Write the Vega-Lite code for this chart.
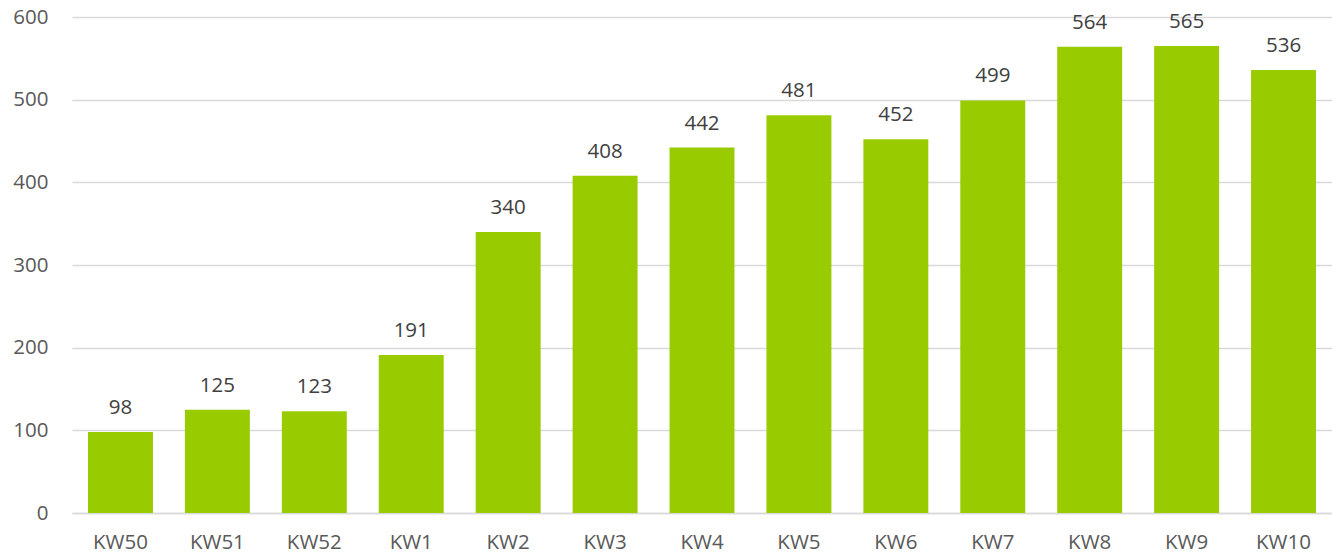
{
  "$schema": "https://vega.github.io/schema/vega-lite/v6.json",
  "width": 1260,
  "height": 496,
  "autosize": {"type": "none"},
  "padding": {"left": 72, "top": 17, "right": 0, "bottom": 44},
  "background": "white",
  "config": {
    "view": {"stroke": null},
    "font": "Open Sans"
  },
  "data": {
    "values": [
      {"week": "KW50", "value": 98},
      {"week": "KW51", "value": 125},
      {"week": "KW52", "value": 123},
      {"week": "KW1", "value": 191},
      {"week": "KW2", "value": 340},
      {"week": "KW3", "value": 408},
      {"week": "KW4", "value": 442},
      {"week": "KW5", "value": 481},
      {"week": "KW6", "value": 452},
      {"week": "KW7", "value": 499},
      {"week": "KW8", "value": 564},
      {"week": "KW9", "value": 565},
      {"week": "KW10", "value": 536}
    ]
  },
  "encoding": {
    "x": {
      "field": "week",
      "type": "nominal",
      "sort": null,
      "scale": {"paddingInner": 0.33, "paddingOuter": 0.165},
      "axis": {
        "title": null,
        "labelAngle": 0,
        "ticks": false,
        "domain": true,
        "domainColor": "#d9d9d9",
        "domainWidth": 1.5,
        "labelFont": "Open Sans",
        "labelFontSize": 20.5,
        "labelColor": "#595959",
        "labelPadding": 19
      }
    },
    "y": {
      "field": "value",
      "type": "quantitative",
      "scale": {"domain": [0, 600]},
      "axis": {
        "title": null,
        "values": [0, 100, 200, 300, 400, 500, 600],
        "ticks": false,
        "domain": false,
        "grid": true,
        "gridColor": "#d9d9d9",
        "gridWidth": 1.5,
        "labelFont": "Open Sans",
        "labelFontSize": 20.5,
        "labelColor": "#595959",
        "labelPadding": 24
      }
    }
  },
  "layer": [
    {
      "mark": {"type": "bar", "color": "#99cc00"}
    },
    {
      "mark": {
        "type": "text",
        "baseline": "alphabetic",
        "dy": -18,
        "font": "Open Sans",
        "fontSize": 20.5,
        "color": "#404040"
      },
      "encoding": {"text": {"field": "value", "type": "quantitative"}}
    }
  ]
}
